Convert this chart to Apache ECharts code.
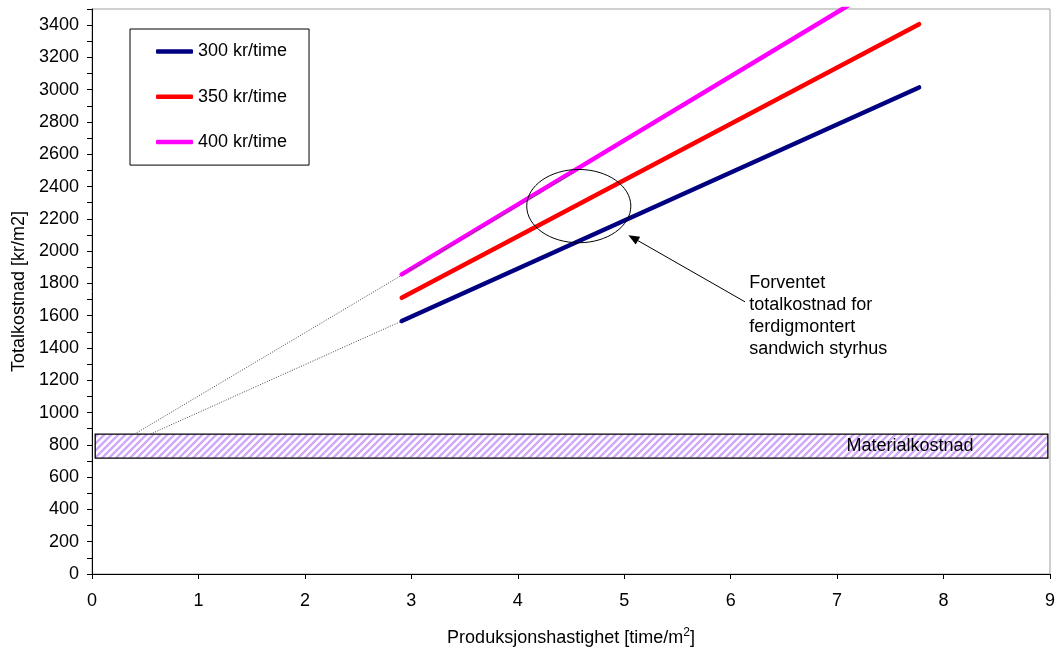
<!DOCTYPE html>
<html><head><meta charset="utf-8">
<script src="https://cdn.jsdelivr.net/npm/echarts@6/dist/echarts.min.js"></script>
<style>html,body{margin:0;padding:0;background:#fff}#c{width:1056px;height:648px}</style>
</head><body><div id="c"></div>
<script>
// ---- data ----
const seriesNames = ['300 kr/time', '350 kr/time', '400 kr/time'];
const rate300 = [[2.91, 1567], [7.77, 3014]];
const rate350 = [[2.91, 1711], [7.77, 3406]];
const rate400 = [[2.91, 1856], [7.10, 3520]];
const ext300 = [[0.55, 867], [2.91, 1567]];
const ext400 = [[0.40, 867], [4.57, 2502]];
const materialX = [0.03, 8.98];
const materialY = [718, 867];
const materialLabel = 'Materialkostnad';
const xMin = 0, xMax = 9, xStep = 1;
const yMin = 0, yMax = 3500, yStep = 100, yLabelStep = 200;
const xTitle = 'Produksjonshastighet [time/m{sup|2}]';
const yTitle = 'Totalkostnad [kr/m2]';
const ellipseCenter = [4.573, 2279];
const ellipseRadius = [0.489, 227];
const arrowFrom = [6.135, 1686];
const arrowTo = [5.039, 2099];
const noteAnchor = [6.175, 1872];
const noteLines = ['Forventet', 'totalkostnad for', 'ferdigmontert', 'sandwich styrhus'];

// ---- chart ----
const FONT = 'Liberation Sans, Arial, sans-serif';
const colors = ['#000080', '#ff0000', '#ff00ff'];

function hatch() {
  const s = 7;
  const c = document.createElement('canvas');
  c.width = s; c.height = s;
  const g = c.getContext('2d');
  g.fillStyle = '#ffffff'; g.fillRect(0, 0, s, s);
  g.strokeStyle = '#d2a8fa'; g.lineWidth = 2.4;
  g.beginPath();
  g.moveTo(-1, s + 1); g.lineTo(s + 1, -1);
  g.moveTo(-1 - s, s + 1); g.lineTo(1, -1);
  g.moveTo(s - 1, s + 1); g.lineTo(2 * s + 1, -1);
  g.stroke();
  return c;
}

const chart = echarts.init(document.getElementById('c'), null, {renderer: 'canvas'});
const lineStyle = (i) => ({color: colors[i], width: 4.5, cap: 'round'});
chart.setOption({
  animation: false,
  textStyle: {fontFamily: FONT},
  grid: {left: 92, right: 6, top: 9, bottom: 74, show: true, borderColor: '#a0a0a0', borderWidth: 1, backgroundColor: 'transparent', containLabel: false, outerBoundsMode: 'none'},
  legend: {
    data: seriesNames,
    orient: 'vertical', left: 130, top: 29,
    padding: [13.5, 22, 14, 26],
    borderColor: '#000', borderWidth: 1,
    itemWidth: 37, itemHeight: 4.5, itemGap: 27.3,
    icon: 'roundRect',
    textStyle: {fontSize: 18, color: '#000', fontFamily: FONT, lineHeight: 18}
  },
  xAxis: {
    type: 'value', min: xMin, max: xMax, interval: xStep,
    name: xTitle, nameLocation: 'middle', nameGap: 53,
    nameTextStyle: {fontSize: 18, color: '#000', fontFamily: FONT, rich: {sup: {fontSize: 12, verticalAlign: 'top', padding: [0, 0, 10, 0], color: '#000'}}},
    axisLine: {lineStyle: {color: '#000', width: 1}},
    axisTick: {length: 5, lineStyle: {color: '#000'}},
    axisLabel: {fontSize: 18, color: '#000', margin: 18, fontFamily: FONT},
    splitLine: {show: false}
  },
  yAxis: {
    type: 'value', min: yMin, max: yMax, interval: yStep,
    name: yTitle, nameLocation: 'middle', nameGap: 60, nameRotate: 90,
    nameTextStyle: {fontSize: 18, color: '#000', fontFamily: FONT},
    axisLine: {show: true, lineStyle: {color: '#000', width: 1}},
    axisTick: {show: true, length: 5, interval: 0, lineStyle: {color: '#000'}},
    axisLabel: {fontSize: 18, color: '#000', margin: 13, interval: 0, fontFamily: FONT,
      formatter: v => (v % yLabelStep === 0 && v <= yMax - yStep + 1e-9) ? String(v) : ''},
    splitLine: {show: false}
  },
  series: [
    {
      name: 'band', type: 'line', data: [], silent: true,
      markArea: {
        silent: true,
        itemStyle: {color: {image: hatch(), repeat: 'repeat'}, borderColor: '#000', borderWidth: 1.3},
        label: {show: true, position: 'insideRight', distance: 75, fontSize: 18, color: '#000', fontFamily: FONT},
        data: [[{name: materialLabel, xAxis: materialX[0], yAxis: materialY[0]}, {xAxis: materialX[1], yAxis: materialY[1]}]]
      }
    },
    {name: seriesNames[0], type: 'line', data: rate300, showSymbol: false, symbol: 'none', lineStyle: lineStyle(0), itemStyle: {color: colors[0]}, z: 3},
    {name: seriesNames[1], type: 'line', data: rate350, showSymbol: false, symbol: 'none', lineStyle: lineStyle(1), itemStyle: {color: colors[1]}, z: 3},
    {name: seriesNames[2], type: 'line', data: rate400, showSymbol: false, symbol: 'none', lineStyle: lineStyle(2), itemStyle: {color: colors[2]}, z: 3},
    {name: 'ext300', type: 'line', data: ext300, symbol: 'none', lineStyle: {color: '#444', width: 1, type: [1, 1.5]}, z: 4},
    {name: 'ext400', type: 'line', data: ext400, symbol: 'none', lineStyle: {color: '#444', width: 1, type: [1, 1.5]}, z: 4}
  ]
});

function px(p) { return chart.convertToPixel({gridIndex: 0}, p); }
const c0 = px(ellipseCenter);
const cx1 = px([ellipseCenter[0] + ellipseRadius[0], ellipseCenter[1] + ellipseRadius[1]]);
const rx = Math.abs(cx1[0] - c0[0]), ry = Math.abs(cx1[1] - c0[1]);
const a0 = px(arrowFrom), a1 = px(arrowTo);
const dx = a1[0] - a0[0], dy = a1[1] - a0[1], dl = Math.hypot(dx, dy);
const ux = dx / dl, uy = dy / dl, nx = -uy, ny = ux;
const HL = 11, HW = 4.5;
const base = [a1[0] - ux * HL, a1[1] - uy * HL];
const na = px(noteAnchor);
chart.setOption({
  graphic: [
    {type: 'ellipse', shape: {cx: c0[0], cy: c0[1], rx: rx, ry: ry}, style: {fill: 'none', stroke: '#000', lineWidth: 1}, z: 10},
    {type: 'line', shape: {x1: a0[0], y1: a0[1], x2: base[0] + ux * 2, y2: base[1] + uy * 2}, style: {stroke: '#000', lineWidth: 1}, z: 10},
    {type: 'polygon', shape: {points: [a1, [base[0] + nx * HW, base[1] + ny * HW], [base[0] - nx * HW, base[1] - ny * HW]]}, style: {fill: '#000'}, z: 10},
    {type: 'text', x: na[0], y: na[1], style: {text: noteLines.join('\n'), fontSize: 18, fontFamily: FONT, fill: '#000', lineHeight: 22, verticalAlign: 'top', align: 'left'}, z: 10}
  ]
});
</script>
</body></html>
